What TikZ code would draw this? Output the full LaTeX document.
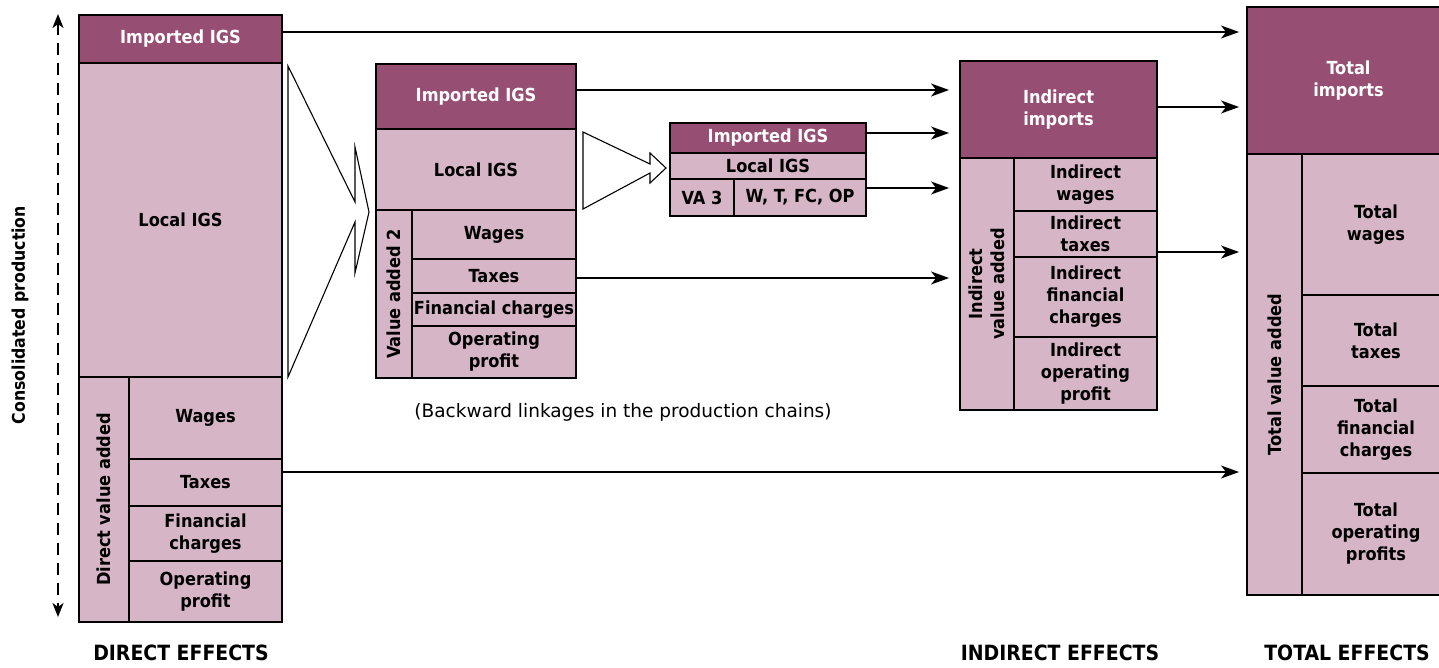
\documentclass[tikz,border=0pt]{standalone}
\usepackage{fontspec}
\setmainfont{DejaVu Sans Condensed}
\newfontfamily\notefont{DejaVu Sans}
\usetikzlibrary{arrows.meta,calc}
\definecolor{cellplum}{RGB}{151,78,115}
\definecolor{cellpink}{RGB}{214,181,198}
\tikzset{
 cell/.style={draw=black, line width=1.9pt, fill=cellpink, inner sep=0pt, align=center, font=\bfseries\fontsize{18}{22}\selectfont, text=black},
 dcell/.style={cell, fill=cellplum, text=white},
 vlab/.style={rotate=90, align=center, inner sep=0pt, font=\bfseries\fontsize{18}{22}\selectfont},
 arr/.style={line width=1.5pt, -{Stealth[length=18pt,width=13pt,inset=5pt]}},
 hollow/.style={draw=black, line width=1.1pt, fill=white, line join=miter},
 foot/.style={font=\bfseries\fontsize{21}{24}\selectfont},
 note/.style={font=\notefont\fontsize{18.5}{22}\selectfont},
}
% style, name, x1, y1, x2, y2, text
\newcommand\mkcell[7]{%
  \pgfmathsetmacro\cw{#5-#3}\pgfmathsetmacro\ch{#6-#4}%
  \node[#1, minimum width=\cw pt, minimum height=\ch pt, anchor=center] (#2) at ({(#3+#5)/2},{(#4+#6)/2}) {#7};%
}
\begin{document}
\begin{tikzpicture}[x=1pt,y=-1pt]
\useasboundingbox (0,0) rectangle (1439,667);
\clip (0,0) rectangle (1439,667);

% hollow arrows
\draw[hollow] (288,66) -- (355,202) -- (355,147) -- (369,212) -- (355,273) -- (355,222) -- (288,377) -- cycle;
\draw[hollow] (583,132) -- (650,164) -- (650,153) -- (666,168) -- (650,183) -- (650,173) -- (583,209) -- cycle;

% direct effects block
\mkcell{dcell}{Limp}{79}{15}{282}{63}{Imported IGS}
\mkcell{cell}{Lloc}{79}{63}{282}{377}{Local IGS}
\mkcell{cell}{Lva}{79}{377}{129}{622}{}
\node[vlab] (Lvat) at (Lva.center) {Direct value added};
\mkcell{cell}{Lwag}{129}{377}{282}{459}{Wages}
\mkcell{cell}{Ltax}{129}{459}{282}{506}{Taxes}
\mkcell{cell}{Lfin}{129}{506}{282}{561}{Financial\\charges}
\mkcell{cell}{Lop}{129}{561}{282}{622}{Operating\\profit}

% second round block
\mkcell{dcell}{Mimp}{376}{64}{576}{129}{Imported IGS}
\mkcell{cell}{Mloc}{376}{129}{576}{210}{Local IGS}
\mkcell{cell}{Mva}{376}{210}{412}{378}{}
\node[vlab] (Mvat) at (Mva.center) {Value added 2};
\mkcell{cell}{Mwag}{412}{210}{576}{259}{Wages}
\mkcell{cell}{Mtax}{412}{259}{576}{293}{Taxes}
\mkcell{cell}{Mfin}{412}{293}{576}{326}{Financial charges}
\mkcell{cell}{Mop}{412}{326}{576}{378}{Operating\\profit}

% third round block
\mkcell{dcell}{Simp}{670}{123}{866}{153}{Imported IGS}
\mkcell{cell}{Sloc}{670}{153}{866}{179}{Local IGS}
\mkcell{cell}{Sva}{670}{179}{734}{216}{VA 3}
\mkcell{cell}{Swt}{734}{179}{866}{216}{W, T, FC, OP}

% indirect effects block
\mkcell{dcell}{Iimp}{960}{61}{1157}{158}{Indirect\\imports}
\mkcell{cell}{Iva}{960}{158}{1014}{410}{}
\node[vlab] (Ivat) at (Iva.center) {Indirect\\value added};
\mkcell{cell}{Iwag}{1014}{158}{1157}{211}{Indirect\\wages}
\mkcell{cell}{Itax}{1014}{211}{1157}{257}{Indirect\\taxes}
\mkcell{cell}{Ifin}{1014}{257}{1157}{337}{Indirect\\financial\\charges}
\mkcell{cell}{Iop}{1014}{337}{1157}{410}{Indirect\\operating\\profit}

% total effects block
\mkcell{dcell}{Timp}{1247}{7}{1450}{154}{Total\\imports}
\mkcell{cell}{Tva}{1247}{154}{1302}{595}{}
\node[vlab] (Tvat) at (Tva.center) {Total value added};
\mkcell{cell}{Twag}{1302}{154}{1450}{295}{Total\\wages}
\mkcell{cell}{Ttax}{1302}{295}{1450}{386}{Total\\taxes}
\mkcell{cell}{Tfin}{1302}{386}{1450}{473}{Total\\financial\\charges}
\mkcell{cell}{Top}{1302}{473}{1450}{595}{Total\\operating\\profits}

% connectors
\draw[arr, shorten >=7pt] ([yshift=7pt]Limp.east) -- ([yshift=7pt]Limp.east -| Timp.west);
\draw[arr, shorten >=7pt] ([yshift=10.5pt]Ltax.east) -- ([yshift=10.5pt]Ltax.east -| Tva.west);
\draw[arr, shorten >=10pt] ([yshift=6.5pt]Mimp.east) -- ([yshift=6.5pt]Mimp.east -| Iimp.west);
\draw[arr, shorten >=10pt] ([yshift=-2pt]Mtax.east) -- ([yshift=-2pt]Mtax.east -| Iva.west);
\draw[arr, shorten >=10pt] ([yshift=5pt]Simp.east) -- ([yshift=5pt]Simp.east -| Iimp.west);
\draw[arr, shorten >=10pt] ([yshift=9.5pt]Swt.east) -- ([yshift=9.5pt]Swt.east -| Iva.west);
\draw[arr, shorten >=7pt] ([yshift=2.5pt]Iimp.east) -- ([yshift=2.5pt]Iimp.east -| Timp.west);
\draw[arr, shorten >=7pt] ([yshift=-18pt]Itax.east) -- ([yshift=-18pt]Itax.east -| Tva.west);

% consolidated production axis
\coordinate (dtop) at (58,14);
\coordinate (dbot) at (58,617);
\draw[line width=2.2pt, dash pattern=on 12pt off 8pt, {Stealth[length=14pt,width=11pt,inset=4pt]}-{Stealth[length=14pt,width=11pt,inset=4pt]}] (dtop) -- (dbot);
\node[vlab, font=\bfseries\fontsize{17.5}{20}\selectfont] (cons) at (20,315) {Consolidated production};

% labels
\node[note] (back) at (623,412) {(Backward linkages in the production chains)};
\node[foot] (dir) at (181,653) {DIRECT EFFECTS};
\node[foot] (ind) at (1060,653) {INDIRECT EFFECTS};
\node[foot] (tot) at (1347,653) {TOTAL EFFECTS};
\end{tikzpicture}
\end{document}
